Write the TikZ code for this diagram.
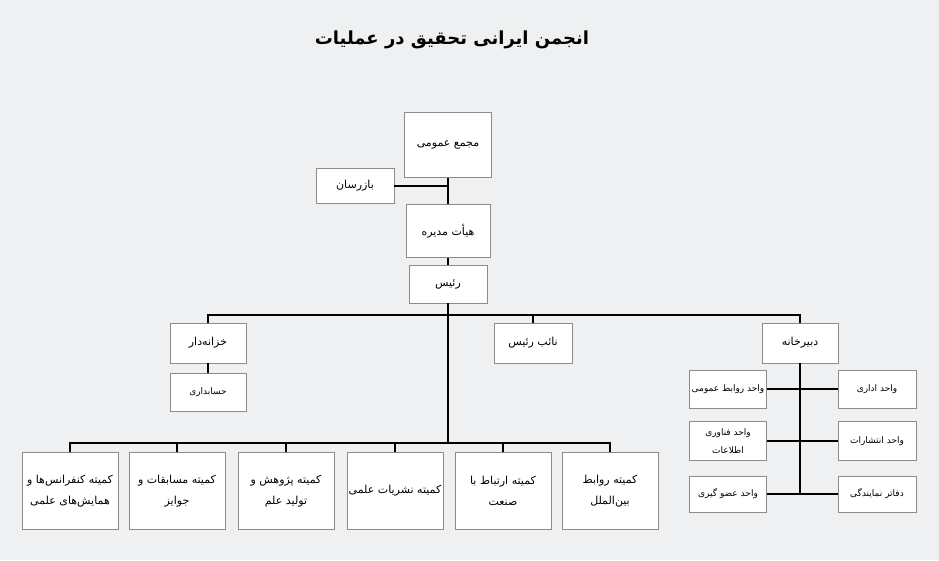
\documentclass[tikz,border=0pt]{standalone}
\usepackage{fontspec}
\newfontfamily\farsi[Script=Arabic]{DejaVu Sans}
\TeXXeTstate=1
\newcommand{\fa}[1]{\beginR#1\endR}
\begin{document}
\begin{tikzpicture}[x=1pt,y=-1pt,
  box/.style={draw=black!45,fill=white,minimum width=#1,align=center,font=\farsi\fontsize{11}{21}\selectfont,inner sep=2pt},
  sm/.style={font=\farsi\fontsize{9}{18}\selectfont},
  box/.default=78pt,
  ln/.style={line width=1.3pt}]
\fill[fill={rgb,255:red,238;green,240;blue,242}] (0,0) rectangle (939,560);
\useasboundingbox (0,0) rectangle (939,560);
\node[font=\farsi\bfseries\fontsize{18}{22}\selectfont] (t) at (452,40) {\fa{انجمن ایرانی تحقیق در عملیات}};
% top chain
\node[box=87pt,minimum height=65pt] (gm) at (448,145) {\fa{مجمع عمومی}};
\node[box=78pt,minimum height=35pt] (bz) at (355,186) {\fa{بازرسان}};
\node[box=84pt,minimum height=53pt] (hm) at (448,231) {\fa{هیأت مدیره}};
\node[box=78pt,minimum height=38pt] (ra) at (448,284) {\fa{رئیس}};
\node[box=76pt,minimum height=40pt] (kh) at (208,343) {\fa{خزانه‌دار}};
\node[box=76pt,minimum height=38pt,sm] (hs) at (208,392) {\fa{حسابداری}};
\node[box=78pt,minimum height=40pt] (nr) at (533,343) {\fa{نائب رئیس}};
\node[box=76pt,minimum height=40pt] (db) at (800,343) {\fa{دبیرخانه}};
% units
\node[box=77pt,minimum height=38pt,sm] (u1) at (728,389) {\fa{واحد روابط عمومی}};
\node[box=77pt,minimum height=39pt,sm] (u2) at (728,441) {\fa{واحد فناوری}\\\fa{اطلاعات}};
\node[box=77pt,minimum height=36pt,sm] (u3) at (728,494) {\fa{واحد عضو گیری}};
\node[box=78pt,minimum height=38pt,sm] (v1) at (877,389) {\fa{واحد اداری}};
\node[box=78pt,minimum height=39pt,sm] (v2) at (877,441) {\fa{واحد انتشارات}};
\node[box=78pt,minimum height=36pt,sm] (v3) at (877,494) {\fa{دفاتر نمایندگی}};
% committees
\node[box=96pt,minimum height=77pt] (c1) at (70,491) {\fa{کمیته کنفرانس‌ها و}\\\fa{همایش‌های علمی}};
\node[box=96pt,minimum height=77pt] (c2) at (177,491) {\fa{کمیته مسابقات و}\\\fa{جوایز}};
\node[box=96pt,minimum height=77pt] (c3) at (286,491) {\fa{کمیته پژوهش و}\\\fa{تولید علم}};
\node[box=96pt,minimum height=77pt] (c4) at (395,491) {\fa{کمیته نشریات علمی}};
\node[box=96pt,minimum height=77pt] (c5) at (503,491) {\fa{کمیته ارتباط با}\\\fa{صنعت}};
\node[box=96pt,minimum height=77pt] (c6) at (610,491) {\fa{کمیته روابط}\\\fa{بین‌الملل}};
\coordinate (jb) at (448,443);
\coordinate (jt) at (448,315);
\coordinate (ue) at (800,494);
% connectors
\draw[ln] (gm.south) -- (hm.north);
\draw[ln] (bz.east) -- (bz.east -| gm.south);
\draw[ln] (hm.south) -- (ra.north);
\draw[ln] (ra.south) -- (jt);
\draw[ln] (kh.north) |- (jt) -| (db.north);
\draw[ln] (nr.north) |- (jt);
\draw[ln] (kh.south) -- (hs.north);
\draw[ln] (jt) -- (jb);
\draw[ln] (c1.north) |- (jb) -| (c6.north);
\foreach \c in {c2,c3,c4,c5} \draw[ln] (\c.north) -- (\c.north |- jb);
\draw[ln] (db.south) -- (ue);
\foreach \u in {u1,u2,u3} \draw[ln] (\u.east) -- (\u.east -| db.south);
\foreach \u in {v1,v2,v3} \draw[ln] (\u.west) -- (\u.west -| db.south);
\end{tikzpicture}
\end{document}
